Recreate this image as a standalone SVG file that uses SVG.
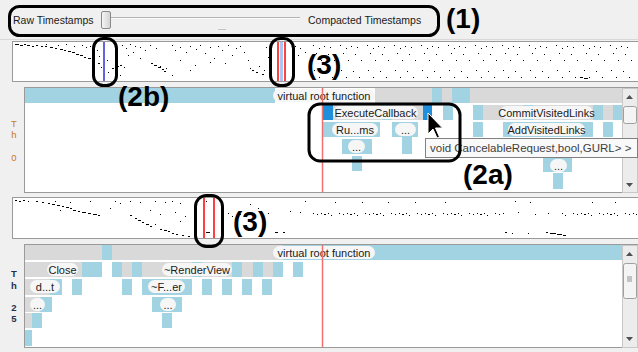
<svg xmlns="http://www.w3.org/2000/svg" width="638" height="352" viewBox="0 0 638 352">
<defs>
<style>
.lb{fill:#a2d3e3}
.gy{fill:#d9d9d9}
.db{fill:#1f8fdc}
.pill{fill:#f6f6f6}
.t{font-family:"Liberation Sans",Arial,sans-serif;font-size:11px;fill:#1a1a1a;text-anchor:middle}
.ui{font-family:"Liberation Sans",Arial,sans-serif;font-size:10.5px;fill:#1a1a1a}
.big{font-family:"Liberation Sans",Arial,sans-serif;font-size:28px;font-weight:bold;fill:#000}
.co{fill:none;stroke:#000;stroke-width:3}
.frame{fill:#fff;stroke:#9a9a9a;stroke-width:1}
.dots{fill:none;stroke:#000;stroke-width:1.1}
.red{stroke:#f07070;stroke-width:1.5}
.lblo{font-family:"Liberation Sans",Arial,sans-serif;font-size:9.5px;fill:#c87820;text-anchor:middle}
.lbln{font-family:"Liberation Sans",Arial,sans-serif;font-size:9.5px;font-weight:bold;fill:#203050;text-anchor:middle}
.sbtrack{fill:#ececec;stroke:#c8c8c8;stroke-width:1}
.thumb{fill:#f4f4f4;stroke:#a0a0a0;stroke-width:1}
.arr{fill:#505050}
</style>
<linearGradient id="hg" x1="0" y1="0" x2="1" y2="0">
<stop offset="0" stop-color="#f6f6f6"/>
<stop offset="1" stop-color="#d2d2d2"/>
</linearGradient>
<pattern id="p1" x="310" y="42" width="27" height="40" patternUnits="userSpaceOnUse">
<path class="dots" d="M3 3.5h1M14 4.5h1M9 6.5h1M20 5.5h1M6 11.5h1M18 12.5h1M11 18.5h1M24 18.5h1M4 28.5h1M16 29.5h1M9 35.5h1M22 35.5h1"/>
</pattern>
<pattern id="p2" x="310" y="210" width="26" height="8" patternUnits="userSpaceOnUse">
<path class="dots" d="M3 3.5h1M7 4.5h1M11 3.5h1M14 4.5h2M18 3.5h1M21 5.5h1"/>
</pattern>
</defs>

<rect width="638" height="352" fill="#f0f0f0"/>

<g id="toolbar">
<text class="ui" x="13" y="24">Raw Timestamps</text>
<line x1="111" y1="17.5" x2="300" y2="17.5" stroke="#b4b4b4"/>
<line x1="111" y1="18.5" x2="300" y2="18.5" stroke="#fafafa"/>
<rect x="101.5" y="11.5" width="9" height="17" rx="1.5" fill="url(#hg)" stroke="#8a8a8a"/>
<line x1="218" y1="29.5" x2="226" y2="29.5" stroke="#c4c4c4"/>
<text class="ui" x="308" y="24">Compacted Timestamps</text>
<line x1="0" y1="39.5" x2="638" y2="39.5" stroke="#d8d8d8"/>
</g>

<g id="overview1">
<rect class="frame" x="12.5" y="41.5" width="626" height="40"/>
<rect x="310" y="43" width="327" height="38" fill="url(#p1)"/>
<path class="dots" d="M15 44.5h4M20 45.5h3M24 44.5h2M27 45.5h3M32 46.5h2M36 45.5h2M41 46.5h2M45 46.5h2M50 47.5h3M55 48.5h2M60 49.5h3M64 50.5h2M68 51.5h3M72 52.5h3M76 54.5h3M80 55.5h3M84 57.5h2M88 58.5h3M92 60.5h2M46 44.5h1M58 45.5h1M66 44.5h1M74 46.5h1M82 45.5h1M86 47.5h1M90 46.5h1M97 50.5h1M99 56.5h1M98 63.5h2M101 67.5h1M107 60.5h1M108 72.5h1M112 68.5h2M116 66.5h3M120 65.5h2M124 67.5h1M126 48.5h1M122 45.5h1M130 44.5h1M135 46.5h1M140 47.5h1M128 55.5h1M133 52.5h1M151 63.5h2M154 65.5h3M158 67.5h3M162 69.5h2M160 66.5h1M164 71.5h2M166 68.5h1M145 50.5h1M150 45.5h1M156 48.5h1M172 45.5h1M175 50.5h1M180 47.5h1M186 52.5h1M190 46.5h1M196 49.5h1M200 45.5h1M205 53.5h1M210 47.5h1M214 58.5h1M218 46.5h1M222 50.5h1M228 45.5h1M232 55.5h1M236 48.5h1M240 46.5h1M244 52.5h1M248 60.5h1M250 68.5h1M252 70.5h2M256 72.5h2M259 66.5h1M262 74.5h2M264 70.5h1M266 47.5h1M268 57.5h1M180 60.5h1M195 65.5h1M210 62.5h1M225 63.5h1M140 58.5h1M172 75.5h1M190 70.5h1M120 75.5h1M295 46.5h1M298 55.5h1M300 48.5h1M305 52.5h1M580 77.5h3M584 78.5h4"/>
<line x1="104" y1="42" x2="104" y2="81" stroke="#6464e0" stroke-width="2"/>
<line x1="281.5" y1="42" x2="281.5" y2="81" stroke="#a8c8f0" stroke-width="3"/>
<line x1="278" y1="42" x2="278" y2="81" stroke="#ff0000" stroke-width="1.5"/>
<line x1="285" y1="42" x2="285" y2="81" stroke="#ff0000" stroke-width="1.5"/>
</g>

<g id="panel1">
<rect class="frame" x="24.5" y="87.5" width="613" height="105"/>
<rect class="lb" x="25" y="88" width="250" height="15"/>
<rect class="gy" x="375" y="88" width="247" height="15"/>
<rect class="lb" x="432" y="88" width="10" height="15"/>
<rect class="lb" x="452" y="88" width="18" height="15"/>
<rect class="pill" x="273" y="89" width="102" height="13" rx="6.5"/>
<text class="t" x="324" y="99.5">virtual root function</text>

<rect class="db" x="323" y="105" width="10" height="15"/>
<rect class="gy" x="333" y="105" width="90" height="15"/>
<rect class="lb" x="382" y="105" width="10" height="15"/>
<rect class="db" x="423" y="105" width="9" height="15"/>
<rect class="lb" x="443" y="103" width="10" height="17"/>
<rect class="lb" x="473" y="105" width="10" height="15"/>
<rect class="gy" x="483" y="105" width="110" height="15"/>
<rect class="lb" x="523" y="105" width="10" height="15"/>
<rect class="lb" x="593" y="105" width="10" height="15"/>
<rect class="gy" x="603" y="105" width="10" height="15"/>
<rect class="lb" x="613" y="105" width="9" height="15"/>
<rect class="pill" x="333" y="106" width="85" height="13" rx="6.5"/>
<text class="t" x="375.5" y="116.5">ExecuteCallback</text>
<rect class="pill" x="500" y="106" width="93" height="13" rx="6.5"/>
<text class="t" x="546.5" y="116.5">CommitVisitedLinks</text>

<rect class="lb" x="323" y="122" width="57" height="15"/>
<rect class="lb" x="392" y="122" width="26" height="15"/>
<rect class="lb" x="473" y="122" width="10" height="15"/>
<rect class="lb" x="503" y="122" width="90" height="15"/>
<rect class="lb" x="603" y="122" width="10" height="15"/>
<rect class="pill" x="332" y="123" width="46" height="13" rx="6.5"/>
<text class="t" x="355" y="133.5">Ru...ms</text>
<rect class="pill" x="395" y="123" width="21" height="13" rx="6.5"/>
<text class="t" x="405.5" y="133.5">...</text>
<rect class="pill" x="508" y="123" width="77" height="13" rx="6.5"/>
<text class="t" x="546.5" y="133.5">AddVisitedLinks</text>

<rect class="lb" x="342" y="139" width="30" height="15"/>
<rect class="lb" x="402" y="137" width="10" height="17"/>
<rect class="lb" x="543" y="139" width="30" height="15"/>
<rect class="pill" x="348" y="140" width="17" height="13" rx="6.5"/>
<text class="t" x="356.5" y="150.5">...</text>

<rect class="lb" x="352" y="156" width="10" height="15"/>
<rect class="lb" x="543" y="156" width="29" height="16"/>
<rect class="pill" x="550" y="159" width="17" height="13" rx="6.5"/>
<text class="t" x="558.5" y="169.5">...</text>
<rect class="lb" x="553" y="173" width="10" height="16"/>

<text class="lblo" x="14" y="127">T</text>
<text class="lblo" x="14" y="138">h</text>
<text class="lblo" x="14" y="161">0</text>

<rect class="sbtrack" x="622.5" y="88.5" width="15" height="104"/>
<path class="arr" d="M626 99h7l-3.5-4z"/>
<rect class="thumb" x="623.5" y="106.5" width="13" height="17" rx="2"/>
<path class="arr" d="M626 183h7l-3.5 4z"/>
<line class="red" x1="322.5" y1="88" x2="322.5" y2="192"/>
</g>

<g id="overview2">
<rect class="frame" x="12.5" y="197.5" width="626" height="41"/>
<rect x="310" y="210" width="195" height="8" fill="url(#p2)"/>
<rect x="560" y="210" width="77" height="8" fill="url(#p2)"/>
<path class="dots" d="M15 200.5h2M19 201.5h2M23 200.5h2M28 201.5h1M36 201.5h2M42 202.5h2M48 203.5h2M52 204.5h3M57 205.5h3M62 206.5h2M66 207.5h3M70 208.5h2M73 210.5h3M78 211.5h2M82 212.5h4M88 213.5h3M93 214.5h4M98 215.5h2M55 201.5h1M70 202.5h1M90 201.5h1M115 201.5h1M120 203.5h1M130 201.5h1M140 202.5h1M155 201.5h1M165 202.5h1M172 201.5h1M180 203.5h1M60 210.5h1M110 208.5h1M150 210.5h1M160 214.5h1M175 212.5h1M185 216.5h1M180 221.5h1M130 215.5h2M135 218.5h2M138 220.5h3M142 222.5h2M146 224.5h3M150 226.5h2M155 224.5h1M160 229.5h2M164 230.5h3M168 231.5h2M172 233.5h2M176 234.5h2M182 235.5h2M188 236.5h2M206 201.5h1M206 232.5h4M228 213.5h1M232 216.5h1M240 214.5h1M250 204.5h1M258 208.5h1M268 213.5h1M275 232.5h3M283 232.5h2M290 211.5h1M300 212.5h1M305 201.5h1M335 202.5h1M362 202.5h1M388 202.5h1M415 202.5h1M445 202.5h1M515 201.5h1M530 202.5h1M592 202.5h1M615 202.5h1M505 232.5h2M512 233.5h1M528 233.5h1M546 232.5h2M550 233.5h6M557 234.5h5M563 235.5h3M518 212.5h1M535 214.5h1M548 213.5h1"/>
<line x1="204" y1="198" x2="204" y2="238" stroke="#ff0000" stroke-width="1.5"/>
<line x1="214" y1="198" x2="214" y2="238" stroke="#ff0000" stroke-width="1.5"/>
</g>

<g id="panel2">
<rect class="frame" x="24.5" y="244.5" width="613" height="103"/>
<rect class="gy" x="25" y="245" width="258" height="15"/>
<rect class="lb" x="102" y="245" width="10" height="15"/>
<rect class="lb" x="283" y="245" width="339" height="15"/>
<rect class="pill" x="273" y="246" width="102" height="13" rx="6.5"/>
<text class="t" x="324" y="256.5">virtual root function</text>

<rect class="gy" x="25" y="262" width="57" height="15"/>
<rect class="lb" x="82" y="262" width="20" height="15"/>
<rect class="lb" x="112" y="262" width="10" height="15"/>
<rect class="gy" x="122" y="262" width="10" height="15"/>
<rect class="lb" x="132" y="262" width="10" height="15"/>
<rect class="gy" x="142" y="262" width="131" height="15"/>
<rect class="lb" x="192" y="262" width="10" height="15"/>
<rect class="lb" x="232" y="262" width="10" height="15"/>
<rect class="lb" x="253" y="262" width="10" height="15"/>
<rect class="lb" x="273" y="262" width="10" height="15"/>
<rect class="lb" x="293" y="262" width="10" height="15"/>
<rect class="pill" x="47" y="263" width="31" height="13" rx="6.5"/>
<text class="t" x="62.5" y="273.5">Close</text>
<rect class="pill" x="162" y="263" width="70" height="13" rx="6.5"/>
<text class="t" x="197" y="273.5">~RenderView</text>

<rect class="gy" x="25" y="279" width="25" height="16"/>
<rect class="lb" x="50" y="279" width="12" height="16"/>
<rect class="lb" x="72" y="279" width="10" height="16"/>
<rect class="lb" x="122" y="279" width="10" height="16"/>
<rect class="lb" x="142" y="279" width="50" height="16"/>
<rect class="lb" x="202" y="279" width="10" height="16"/>
<rect class="lb" x="222" y="279" width="10" height="16"/>
<rect class="lb" x="242" y="279" width="10" height="16"/>
<rect class="lb" x="262" y="279" width="10" height="16"/>
<rect class="pill" x="30" y="280" width="30" height="13" rx="6.5"/>
<text class="t" x="45" y="290.5">d...t</text>
<rect class="pill" x="148" y="280" width="37" height="13" rx="6.5"/>
<text class="t" x="166.5" y="290.5">~F...er</text>

<rect class="gy" x="25" y="297" width="15" height="15"/>
<rect class="lb" x="40" y="297" width="12" height="15"/>
<rect class="lb" x="152" y="297" width="30" height="15"/>
<rect class="pill" x="30" y="298" width="15" height="13" rx="6.5"/>
<text class="t" x="37.5" y="308.5">...</text>
<rect class="pill" x="160" y="298" width="16" height="13" rx="6.5"/>
<text class="t" x="168" y="308.5">...</text>

<rect class="gy" x="25" y="313" width="7" height="15"/>
<rect class="lb" x="32" y="313" width="10" height="15"/>
<rect class="lb" x="162" y="313" width="10" height="15"/>
<rect class="lb" x="25" y="330" width="7" height="16"/>

<text class="lbln" x="14" y="277">T</text>
<text class="lbln" x="14" y="289">h</text>
<text class="lbln" x="14" y="311">2</text>
<text class="lbln" x="14" y="322">5</text>

<rect class="sbtrack" x="622.5" y="245.5" width="15" height="102"/>
<path class="arr" d="M626 256h7l-3.5-4z"/>
<rect class="thumb" x="623.5" y="263.5" width="13" height="35" rx="2"/>
<path d="M627 277h5M627 279h5M627 281h5" stroke="#909090" fill="none"/>
<path class="arr" d="M626 337h7l-3.5 4z"/>
<line class="red" x1="322.5" y1="245" x2="322.5" y2="347"/>
</g>

<g id="tooltip">
<rect x="425.5" y="138.5" width="212" height="19" fill="#f9f9f9" stroke="#808080"/>
<text x="430" y="152" font-family="Liberation Sans, Arial, sans-serif" font-size="11.5" fill="#404040">void CancelableRequest,bool,GURL&gt; &gt;</text>
</g>

<g id="cursor">
<path d="M428 113v21l5-5 4 9 2.5-1-4-9h7z" fill="#000" stroke="#fff" stroke-width="1"/>
</g>

<g id="callouts">
<rect id="c1" class="co" x="9.5" y="6.5" width="429" height="29" rx="10"/>
<text class="big" x="446" y="28">(1)</text>
<rect id="c2b" class="co" x="93.5" y="38.5" width="23" height="47" rx="10"/>
<text class="big" x="118" y="106">(2b)</text>
<rect id="c3a" class="co" x="270.5" y="38.5" width="23" height="47" rx="10"/>
<text class="big" x="307" y="74">(3)</text>
<rect id="c2a" class="co" x="309" y="104" width="151" height="57" rx="11"/>
<text class="big" x="463" y="184">(2a)</text>
<rect id="c3b" class="co" x="195.5" y="195.5" width="27" height="51" rx="11"/>
<text class="big" x="233" y="231">(3)</text>
</g>
</svg>
